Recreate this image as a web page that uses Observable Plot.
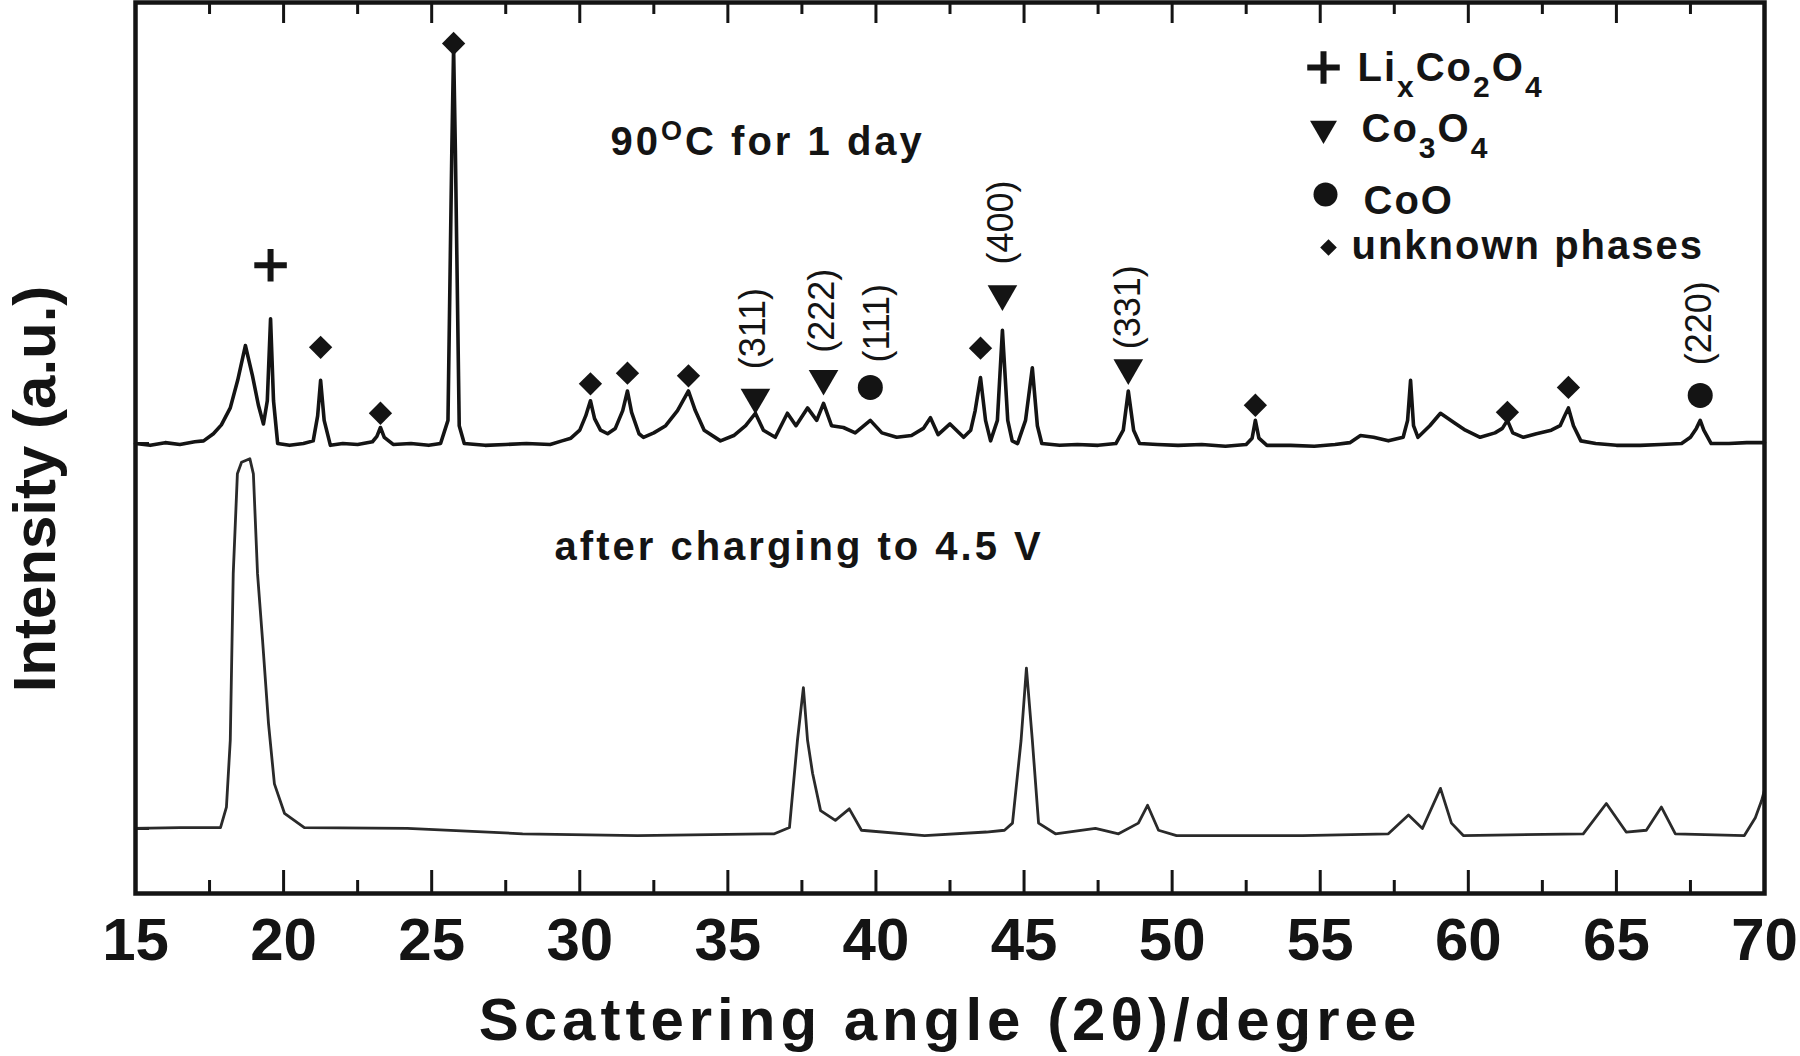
<!DOCTYPE html>
<html><head><meta charset="utf-8">
<script src="https://cdn.jsdelivr.net/npm/d3@7"></script>
<script src="https://cdn.jsdelivr.net/npm/@observablehq/plot@0.6"></script>
<style>
body{margin:0;background:#fff;}
#chart{width:1800px;height:1056px;}
.lgtext text{letter-spacing:2px;}
.ann text{letter-spacing:3px;}
.xtitle text{letter-spacing:5px;}
</style></head><body><div id="chart"></div>
<script>
// ---- data: top pattern (90 °C for 1 day), intensity a.u. above its baseline
const topAngle = [15.0,15.5,16.0,16.5,17.0,17.3,17.63,17.9,18.2,18.45,18.71,18.95,19.15,19.32,19.45,19.56,19.66,19.8,20.2,20.67,21.0,21.15,21.25,21.37,21.58,22.0,22.5,23.0,23.15,23.27,23.4,23.7,24.3,24.9,25.3,25.55,25.68,25.74,25.8,25.93,26.1,26.8,27.5,28.2,29.0,29.4,29.7,30.0,30.2,30.36,30.5,30.7,30.94,31.2,31.45,31.61,31.75,32.0,32.15,32.5,32.9,33.3,33.67,33.9,34.2,34.75,35.2,35.6,35.93,36.2,36.6,37.01,37.3,37.69,38.0,38.23,38.5,38.9,39.3,39.81,40.2,40.7,41.2,41.6,41.84,42.1,42.5,42.96,43.2,43.35,43.53,43.7,43.87,44.1,44.27,44.45,44.6,44.78,45.05,45.28,45.45,45.6,46.2,46.8,47.5,48.1,48.35,48.52,48.7,48.9,49.5,50.2,51.0,51.8,52.5,52.7,52.81,52.93,53.2,54.0,54.8,55.5,56.0,56.36,56.8,57.3,57.8,57.95,58.05,58.15,58.3,58.7,59.06,59.5,59.9,60.4,60.9,61.15,61.32,61.5,61.86,62.3,62.8,63.1,63.25,63.38,63.55,63.8,64.3,65.0,65.8,66.5,67.2,67.5,67.7,67.83,67.95,68.2,68.8,69.4,70.0];
const topIntensity = [0.0,-0.2,0.1,-0.1,0.2,0.3,1.1,2.1,4.0,7.1,11.0,7.6,4.3,2.2,4.8,14.0,4.8,0.0,-0.2,0.0,0.3,3.1,7.1,2.6,-0.2,0.0,-0.1,0.2,0.8,1.8,0.7,-0.1,0.0,-0.2,0.0,2.6,32.9,44.4,32.9,2.0,0.0,-0.2,-0.1,0.0,-0.1,0.3,0.6,1.5,3.1,4.8,2.8,1.5,1.1,1.7,3.7,5.9,3.5,1.1,0.7,1.2,2.0,3.7,5.9,3.7,1.5,0.3,0.9,2.0,3.4,1.5,0.7,3.4,2.0,4.0,2.6,4.5,2.0,1.8,1.2,2.6,1.2,0.7,0.9,1.7,2.9,1.0,2.2,0.7,1.5,3.7,7.4,2.6,0.3,2.6,12.7,2.6,0.3,0.0,2.6,8.5,2.0,0.0,-0.2,-0.1,-0.2,0.0,1.5,5.9,1.5,0.0,-0.1,-0.2,-0.1,-0.3,-0.1,0.6,2.6,0.6,-0.2,-0.2,-0.3,-0.1,0.1,0.9,0.7,0.3,0.7,2.6,7.1,2.0,0.7,2.0,3.4,2.4,1.5,0.7,1.2,1.7,2.6,1.2,0.7,1.1,1.5,2.0,3.1,4.0,2.0,0.3,0.0,-0.2,-0.2,-0.1,0.0,0.7,1.7,2.6,1.5,0.0,0.0,0.1,0.1];

// ---- data: bottom pattern (after charging to 4.5 V)
const bottomAngle = [15.0,16.5,17.87,18.07,18.2,18.3,18.44,18.58,18.86,18.98,19.12,19.29,19.49,19.69,20.03,20.7,24.18,28.07,31.95,36.57,37.08,37.35,37.55,37.69,37.86,38.13,38.63,39.1,39.51,41.64,43.73,44.34,44.61,44.9,45.08,45.28,45.49,46.06,47.41,48.19,48.86,49.17,49.54,50.15,54.4,57.3,57.98,58.45,59.06,59.43,59.83,63.88,64.66,65.33,66.01,66.52,66.99,69.32,69.69,69.9,70.0];
const bottomIntensity = [0.0,0.1,0.1,2.4,9.9,28.6,39.8,41.1,41.5,39.8,28.6,21.1,11.8,5.0,1.7,0.1,0.0,-0.6,-0.8,-0.6,0.1,9.9,15.8,9.9,6.2,2.0,0.9,2.2,-0.2,-0.8,-0.4,-0.2,0.6,9.9,18.0,9.9,0.6,-0.6,0.0,-0.6,0.6,2.6,-0.2,-0.8,-0.8,-0.6,1.5,0.0,4.5,0.6,-0.8,-0.6,2.8,-0.4,-0.2,2.4,-0.6,-0.8,1.2,3.1,4.3];

// vertical offsets of the stacked patterns (a.u.)
const topOffset = 50.5;
const bottomOffset = 7.3;

// ---- phase markers on the top pattern (angle, height above its baseline)
const lixAngle = [19.56];
const lixY = [20.0];
const unknownAngle = [21.25,23.27,25.74,30.36,31.61,33.67,43.53,52.81,61.32,63.38];
const unknownY = [10.8,3.4,44.9,6.7,7.9,7.6,10.7,4.3,3.5,6.3];
const co3o4Angle = [35.93,38.23,44.27,48.52];
const co3o4Y = [5.2,7.3,16.8,8.5];
const cooAngle = [39.81,67.83];
const cooY = [6.3,5.4];

// ---- Miller index labels
const hklLabels = ["(311)","(222)","(111)","(400)","(331)","(220)"];
const hklAngle = [35.86,38.2,40.05,44.24,48.52,67.8];
const hklY = [12.9,14.9,13.5,24.8,15.3,13.5];

// ---- axis ticks
const xTicks = [15,20,25,30,35,40,45,50,55,60,65,70];
const xMinorTicks = [17.5,22.5,27.5,32.5,37.5,42.5,47.5,52.5,57.5,62.5,67.5];

// ---- texts
const sampleLabels = ["90OC for 1 day","after charging to 4.5 V"];
const sampleLabelAngle = [31.04,29.15];
const sampleLabelY = [84.3,38.9];
const legendLabels = ["LixCo2O4","Co3O4","CoO","unknown phases"];
const xTitle = "Scattering angle (2\u03b8)/degree";
const yTitle = "Intensity (a.u.)";

// ---- build tables
const topData = topAngle.map((a,i)=>({a, v: topIntensity[i] + topOffset}));
const bottomData = bottomAngle.map((a,i)=>({a, v: bottomIntensity[i] + bottomOffset}));
const pts = (A,Y)=>A.map((a,i)=>({a, v: Y[i] + topOffset}));
const hklData = hklLabels.map((t,i)=>({t, a: hklAngle[i], v: hklY[i] + topOffset}));
const annData = sampleLabels.map((t,i)=>({t, a: sampleLabelAngle[i], v: sampleLabelY[i]}));

const ink = "#141414";
const F = "Liberation Sans, Arial, Helvetica, sans-serif";
const blank = () => "";

// legend layout (pixel offsets from the plot's top-left corner)
const legendRows = [
  {symbol:"plus", r:10.5, fill:"none", stroke:ink, sw:6, rot:0, sx:1188, sy:65, tx:1222, ty:66},
  {symbol:"triangle", r:10, fill:ink, stroke:"none", sw:0, rot:180, sx:1188, sy:126, tx:1226, ty:127},
  {symbol:"circle", r:12, fill:ink, stroke:"none", sw:0, rot:0, sx:1190, sy:192, tx:1228, ty:199},
  {symbol:"diamond2", r:7.5, fill:ink, stroke:"none", sw:0, rot:0, sx:1193, sy:245, tx:1216, ty:244}
];
const legendMarks = legendRows.flatMap((L,i)=>[
  Plot.dot([0], {frameAnchor:"top-left", dx:L.sx, dy:L.sy, symbol:L.symbol, r:L.r, fill:L.fill, stroke:L.stroke, strokeWidth:L.sw, rotate:L.rot}),
  Plot.text([legendLabels[i]], {frameAnchor:"top-left", dx:L.tx, dy:L.ty, textAnchor:"start", lineAnchor:"middle", fontSize:40, fontWeight:"bold", fill:ink, className:"lgtext lg"+i})
]);

const chart = Plot.plot({
  width: 1800,
  height: 1056,
  marginLeft: 135,
  marginRight: 36,
  marginTop: 2,
  marginBottom: 163,
  style: {fontFamily: F, background: "white", color: ink},
  x: {domain: [15, 70], label: null},
  y: {domain: [0, 100], label: null},
  marks: [
    // ticks (inward) on all sides of the frame
    Plot.axisX({anchor:"bottom", ticks:xTicks, tickSize:-23, tickFormat:blank, strokeWidth:3, label:null}),
    Plot.axisX({anchor:"bottom", ticks:xMinorTicks, tickSize:-13, tickFormat:blank, strokeWidth:3, label:null}),
    Plot.axisX({anchor:"top", ticks:xTicks, tickSize:-20, tickFormat:blank, strokeWidth:3, label:null}),
    Plot.axisX({anchor:"top", ticks:xMinorTicks, tickSize:-11, tickFormat:blank, strokeWidth:3, label:null}),
    Plot.axisX({anchor:"bottom", ticks:xTicks, tickSize:0, tickPadding:24, fontSize:60, fontWeight:"bold", label:null}),
    Plot.axisY({anchor:"left", ticks:[topOffset, bottomOffset], tickSize:-14, tickFormat:blank, strokeWidth:3, label:null}),
    // patterns
    Plot.line(bottomData, {x:"a", y:"v", stroke:"#2a2a2a", strokeWidth:2.8, curve:"linear"}),
    Plot.line(topData, {x:"a", y:"v", stroke:ink, strokeWidth:3.6, curve:"linear"}),
    // phase markers
    Plot.dot(pts(lixAngle, lixY), {x:"a", y:"v", symbol:"plus", r:10.5, stroke:ink, strokeWidth:6}),
    Plot.dot(pts(unknownAngle, unknownY), {x:"a", y:"v", symbol:"diamond2", r:10.5, fill:ink}),
    Plot.dot(pts(co3o4Angle, co3o4Y), {x:"a", y:"v", symbol:"triangle", r:11, fill:ink, rotate:180}),
    Plot.dot(pts(cooAngle, cooY), {x:"a", y:"v", symbol:"circle", r:12.5, fill:ink}),
    // Miller indices
    Plot.text(hklData, {x:"a", y:"v", text:"t", rotate:-90, fontSize:36, fill:ink, lineAnchor:"middle", textAnchor:"middle"}),
    // sample labels
    Plot.text(annData, {x:"a", y:"v", text:"t", textAnchor:"start", lineAnchor:"middle", fontSize:40, fontWeight:"bold", fill:ink, className:"ann"}),
    // legend
    ...legendMarks,
    // axis titles
    Plot.text([xTitle], {frameAnchor:"bottom", dy:146, lineAnchor:"bottom", fontSize:60, fontWeight:"bold", fill:ink, className:"xtitle"}),
    Plot.text([yTitle], {frameAnchor:"left", dx:-100, dy:41, rotate:-90, lineAnchor:"middle", textAnchor:"middle", fontSize:60, fontWeight:"bold", fill:ink}),
    Plot.frame({stroke:ink, strokeWidth:4.5})
  ]
});
document.getElementById("chart").appendChild(chart);

// rich text: sub/superscripts
const sub = (s)=>`<tspan dy="16" font-size="30">${s}</tspan>`;
const up = (s)=>`<tspan dy="-16">${s}</tspan>`;
const setHTML = (sel, html)=>chart.querySelectorAll(sel).forEach(el=>{el.innerHTML = html;});
setHTML(".lg0 text", `Li${sub("x")}${up("Co")}${sub("2")}${up("O")}${sub("4")}`);
setHTML(".lg1 text", `Co${sub("3")}${up("O")}${sub("4")}`);
chart.querySelectorAll(".ann text").forEach(el=>{
  if (el.textContent.startsWith("90O")) {
    el.innerHTML = `90<tspan dy="-15" font-size="27">O</tspan><tspan dy="15">C for 1 day</tspan>`;
  }
});
</script>
</body></html>
